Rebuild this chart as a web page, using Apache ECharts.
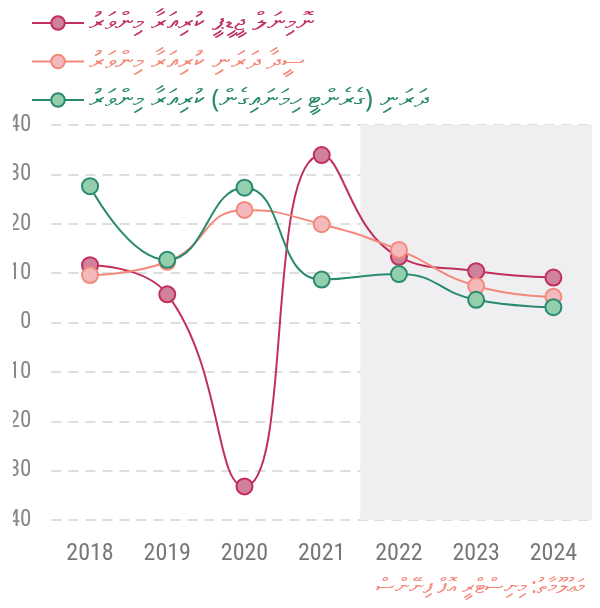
<!DOCTYPE html>
<html>
<head>
<meta charset="utf-8">
<script src="https://cdn.jsdelivr.net/npm/echarts@6/dist/echarts.min.js"></script>
<style>
html,body{margin:0;padding:0;background:#fff;}
#chart{width:600px;height:608px;}
</style>
</head>
<body>
<div id="chart"></div>
<script>
const years = ['2018','2019','2020','2021','2022','2023','2024'];
const nominalGdp = [11.6, 5.7, -33.2, 33.9, 13.3, 10.4, 9.1];
const directDebt = [9.6, 12.3, 22.8, 19.9, 14.7, 7.4, 5.2];
const totalDebt = [27.6, 12.7, 27.3, 8.7, 9.8, 4.6, 3.1];
const seriesNames = [
  'ނޮމިނަލް ޖީޑީޕީ ކުރިއަރާ މިންވަރު',
  'ސީދާ ދަރަނި ކުރިއަރާ މިންވަރު',
  'ދަރަނި (ގެރެންޓީ ހިމަނައިގެން) ކުރިއަރާ މިންވަރު'
];
const yTicks = [-40, -30, -20, -10, 0, 10, 20, 30, 40];
const projectionSpan = [3.5, 6.5];
const sourceText = 'މަޢުލޫމާތު: މިނިސްޓްރީ އޮފް ފިނޭންސް';

const lineColors = ['#c0305a', '#f2897a', '#2a8a6e'];
const fillColors = ['#d0819c', '#f3b9bc', '#93cfad'];
const seriesData = [nominalGdp, directDebt, totalDebt];
const numFont = '"Liberation Sans Narrow", "Roboto Condensed", Roboto, sans-serif';

const chart = echarts.init(document.getElementById('chart'), null, {renderer: 'canvas'});

const lineSeries = seriesData.map((d, i) => ({
  name: seriesNames[i],
  type: 'line',
  data: d,
  smooth: 0.5,
  symbol: 'circle',
  symbolSize: 16,
  z: 3 + i,
  lineStyle: {color: lineColors[i], width: 2},
  itemStyle: {color: fillColors[i], borderColor: lineColors[i], borderWidth: 2},
  emphasis: {disabled: true}
}));

chart.setOption({
  animation: false,
  backgroundColor: '#ffffff',
  legend: {
    orient: 'vertical',
    left: 26,
    top: 5,
    itemWidth: 52,
    itemHeight: 17,
    itemGap: 12.5,
    data: seriesNames.map((n, i) => ({
      name: n,
      textStyle: {color: lineColors[i], fontSize: 26, fontFamily: '"Noto Sans", sans-serif'}
    }))
  },
  title: {
    text: sourceText,
    right: 10,
    bottom: 5,
    textStyle: {color: '#f2897a', fontSize: 21, lineHeight: 20, fontWeight: 'normal', fontFamily: '"Noto Sans", sans-serif'}
  },
  graphic: [{
    type: 'rect',
    left: 0,
    top: 110,
    shape: {width: 13, height: 425},
    style: {fill: '#ffffff'},
    z: 100,
    silent: true
  }],
  grid: {left: 50, right: 8, top: 125, bottom: 88, containLabel: false},
  xAxis: [{
    type: 'category',
    data: years,
    boundaryGap: true,
    axisLine: {show: false},
    axisTick: {show: false},
    axisLabel: {color: '#777', fontSize: 24, fontFamily: numFont, margin: 22}
  }, {
    type: 'value',
    min: -0.5,
    max: 6.5,
    show: false
  }],
  yAxis: {
    type: 'value',
    min: yTicks[0],
    max: yTicks[yTicks.length - 1],
    interval: 10,
    axisLine: {show: false},
    axisTick: {show: false},
    axisLabel: {color: '#888', fontSize: 23, fontFamily: numFont, margin: 20},
    splitLine: {lineStyle: {color: '#dedede', width: 2, type: [10, 7]}}
  },
  series: [{
    type: 'line',
    xAxisIndex: 1,
    data: [[projectionSpan[0], 0], [projectionSpan[1], 0]],
    symbol: 'none',
    lineStyle: {opacity: 0},
    silent: true,
    z: 0,
    markArea: {
      silent: true,
      itemStyle: {color: '#efeff2'},
      data: [[{xAxis: projectionSpan[0]}, {xAxis: projectionSpan[1]}]]
    }
  }].concat(lineSeries)
});
</script>
</body>
</html>
